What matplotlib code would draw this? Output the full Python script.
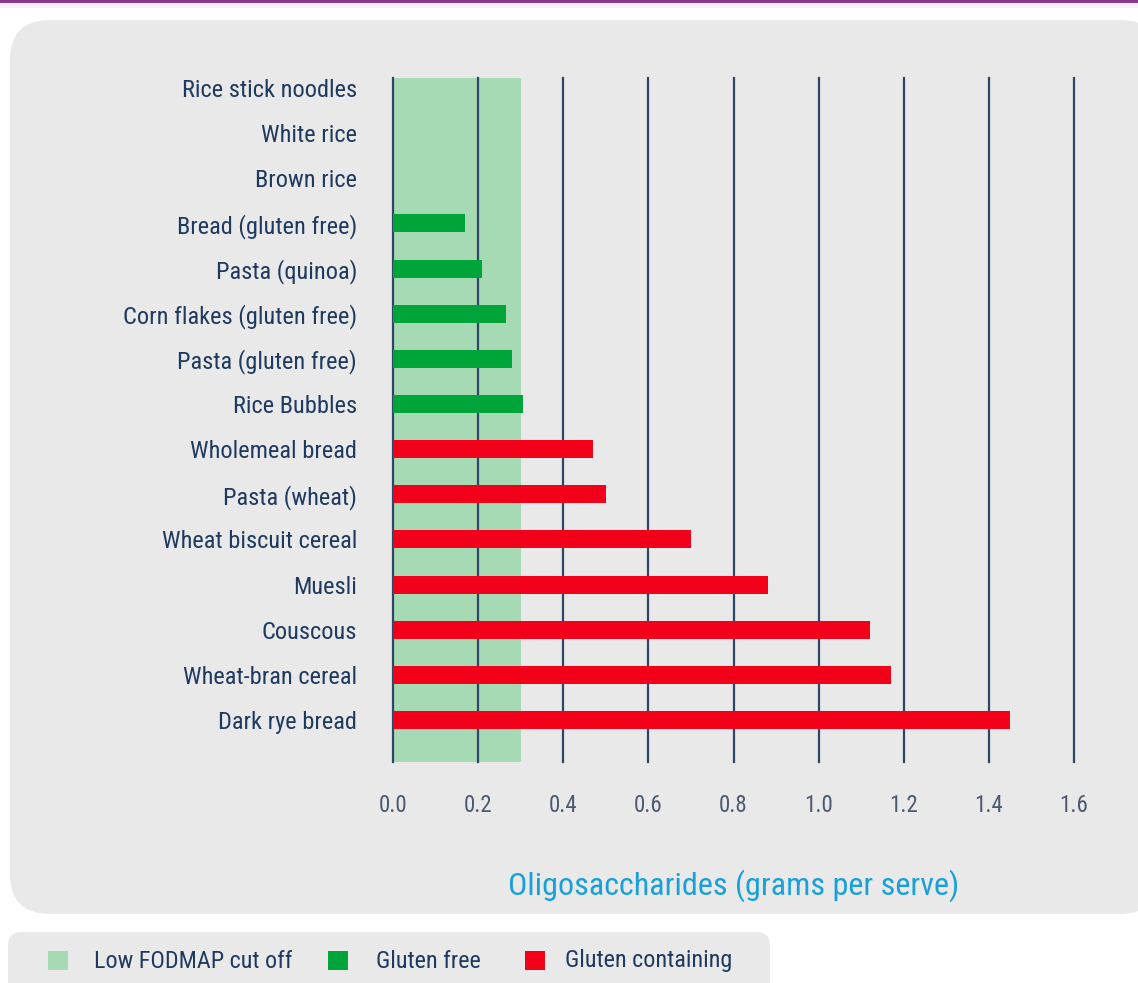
import matplotlib
matplotlib.use("Agg")
import matplotlib.pyplot as plt
from matplotlib.patches import FancyBboxPatch, Rectangle
from matplotlib import font_manager

categories = ["Rice stick noodles", "White rice", "Brown rice", "Bread (gluten free)",
              "Pasta (quinoa)", "Corn flakes (gluten free)", "Pasta (gluten free)",
              "Rice Bubbles", "Wholemeal bread", "Pasta (wheat)", "Wheat biscuit cereal",
              "Muesli", "Couscous", "Wheat-bran cereal", "Dark rye bread"]
values = [0.0, 0.0, 0.0, 0.17, 0.21, 0.265, 0.28, 0.305, 0.47, 0.50, 0.70, 0.88, 1.12, 1.17, 1.45]
gluten_free = [True]*8 + [False]*7
cutoff = 0.30
xticks = [0.0, 0.2, 0.4, 0.6, 0.8, 1.0, 1.2, 1.4, 1.6]
xlabel = "Oligosaccharides (grams per serve)"
legend_labels = ["Low FODMAP cut off", "Gluten free", "Gluten containing"]

C_BAND = "#a6dab4"
C_GF = "#00a53a"
C_GC = "#f2001a"
C_GRID = "#2e4766"
C_TEXT = "#1f3a5f"
C_PANEL = "#e9e9e9"

names = {f.name for f in font_manager.fontManager.ttflist}
k = 0.95
main = 'Liberation Sans'
for cand, kk in [('Roboto Condensed', 1.1), ('Liberation Sans Narrow', 1.15),
                 ('Open Sans Condensed', 1.1)]:
    if cand in names:
        main, k = cand, kk
        break
plt.rcParams['font.family'] = [main, 'DejaVu Sans']

W, H = 1138, 983
fig = plt.figure(figsize=(W/100, H/100), dpi=100)
fig.patch.set_facecolor("white")

def fx(px): return px / W
def fy(py): return 1 - py / H

# top purple line
fig.add_artist(Rectangle((0, fy(3)), 1, 3/H, transform=fig.transFigure,
                         facecolor="#8a3a8a", edgecolor="none", zorder=-5))
fig.add_artist(Rectangle((0, fy(8)), 1, 5/H, transform=fig.transFigure,
                         facecolor="#fbeefb", edgecolor="none", zorder=-5))

# main panel
fig.add_artist(FancyBboxPatch((fx(10), fy(914)), fx(1160) - fx(10), fy(20) - fy(914),
                              boxstyle="round,pad=0,rounding_size=0.035",
                              transform=fig.transFigure, facecolor=C_PANEL,
                              edgecolor="none", mutation_aspect=W/H, zorder=-5))
# legend panel
fig.add_artist(FancyBboxPatch((fx(8), fy(1000)), fx(770) - fx(8), fy(932) - fy(1000),
                              boxstyle="round,pad=0,rounding_size=0.012",
                              transform=fig.transFigure, facecolor=C_PANEL,
                              edgecolor="none", mutation_aspect=W/H, zorder=-5))

ax_l, ax_r, ax_t, ax_b = 393, 1074, 78, 762
ax = fig.add_axes([fx(ax_l), fy(ax_b), fx(ax_r) - fx(ax_l), fy(ax_t) - fy(ax_b)])
ax.set_facecolor("none")
n = len(categories)
row = (720 - 88) / (n - 1)
ax.set_xlim(0, 1.6)
ax.set_ylim(n - 1 + (ax_b - 720) / row, -(88 - ax_t) / row)

ax.axvspan(0, cutoff, color=C_BAND, zorder=0, lw=0)
for t in xticks:
    ax.axvline(t, color=C_GRID, lw=1.6, zorder=1, clip_on=False)
ys = list(range(n))
colors = [C_GF if g else C_GC for g in gluten_free]
ax.barh(ys, values, height=0.4, color=colors, zorder=2, lw=0)

for s in ax.spines.values():
    s.set_visible(False)
ax.set_yticks(ys)
ax.set_yticklabels(categories, fontsize=16*k, color=C_TEXT)
ax.tick_params(axis="y", length=0, pad=26)
ax.set_xticks(xticks)
ax.set_xticklabels([f"{t:.1f}" for t in xticks], fontsize=15*k, color="#4a5a70")
ax.tick_params(axis="x", length=0, pad=23)
ax.set_xlabel(xlabel, fontsize=21*k, color="#1aa0d8", labelpad=38)

# legend
items = [(48, C_BAND), (328, C_GF), (525, C_GC)]
tx = [94, 376, 565]
for (x0, c), lab, t in zip(items, legend_labels, tx):
    fig.add_artist(Rectangle((fx(x0), fy(970)), 20/W, 19/H, transform=fig.transFigure,
                             facecolor=c, edgecolor="none"))
    fig.text(fx(t), fy(961), lab, fontsize=15.8*k, color=C_TEXT, va="center", ha="left")

fig.savefig("out.png", dpi=100, facecolor="white")
